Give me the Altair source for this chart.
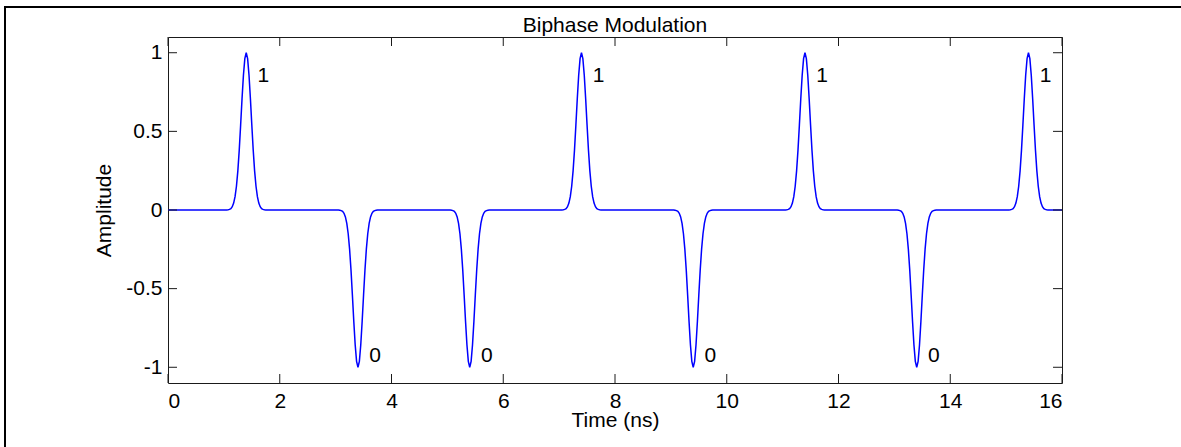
import altair as alt
import pandas as pd

# Bit stream: pulse centres (ns) and the bit carried by each pulse
pulse_centers = [1.4, 3.4, 5.4, 7.4, 9.4, 11.4, 13.4, 15.4]
bits = [1, 0, 0, 1, 0, 1, 0, 1]

# Shape of a single Gaussian monocycle pulse (offset in ns, normalised amplitude)
pulse_offsets = [-0.35, -0.325, -0.3, -0.275, -0.25, -0.225, -0.2, -0.175, -0.15,
                 -0.125, -0.1, -0.075, -0.05, -0.025, 0.0, 0.025, 0.05, 0.075,
                 0.1, 0.125, 0.15, 0.175, 0.2, 0.225, 0.25, 0.275, 0.3, 0.325, 0.35]
pulse_shape = [0.0, 0.0015, 0.004, 0.009, 0.021, 0.044, 0.085, 0.151, 0.249,
               0.381, 0.54, 0.707, 0.857, 0.962, 1.0, 0.962, 0.857, 0.707,
               0.54, 0.381, 0.249, 0.151, 0.085, 0.044, 0.021, 0.009, 0.004, 0.0015, 0.0]

time_range = [0, 16]
x_ticks = [0, 2, 4, 6, 8, 10, 12, 14, 16]
y_ticks = [-1, -0.5, 0, 0.5, 1]

# Bit labels drawn beside each pulse
label_dx = 0.2
label_y = {1: 0.85, 0: -0.93}

W, H = 894, 346
FONT = "Liberation Sans"
FS = 21
TICK = 9

# Assemble the modulated waveform: +pulse for "1", -pulse for "0"
rows = [{"t": time_range[0], "a": 0.0}]
for c, b in zip(pulse_centers, bits):
    sign = 1 if b == 1 else -1
    for off, v in zip(pulse_offsets, pulse_shape):
        rows.append({"t": round(c + off, 4), "a": sign * v})
rows.append({"t": time_range[1], "a": 0.0})
wave = pd.DataFrame(rows)

labels = pd.DataFrame({
    "t": [c + label_dx for c in pulse_centers],
    "a": [label_y[b] for b in bits],
    "txt": [str(b) for b in bits],
})

xscale = alt.Scale(domain=time_range, nice=False, zero=False)
yscale = alt.Scale(domain=[-1.1, 1.1], nice=False, zero=False)

xaxis = alt.Axis(
    values=x_ticks, title="Time (ns)", grid=False, domain=False, ticks=False,
    labelFont=FONT, labelFontSize=FS, labelColor="#000", labelPadding=7,
    labelBaseline="top",
    titleFont=FONT, titleFontSize=FS, titleFontWeight="normal", titleColor="#000",
    titleY=43, titleBaseline="alphabetic")
yaxis = alt.Axis(
    values=y_ticks, title="Amplitude", grid=False, domain=False, ticks=False,
    labelExpr="toString(datum.value)",
    labelFont=FONT, labelFontSize=FS, labelColor="#000", labelPadding=6,
    titleFont=FONT, titleFontSize=FS, titleFontWeight="normal", titleColor="#000",
    titleX=-64, titleY=H / 2, titleAngle=-90, titleAlign="center",
    titleBaseline="middle")

X = alt.X("t:Q", scale=xscale, axis=xaxis)
Y = alt.Y("a:Q", scale=yscale, axis=yaxis)

line = alt.Chart(wave).mark_line(color="#0000ff", strokeWidth=1.5, interpolate="linear").encode(
    x=X, y=Y)

text = alt.Chart(labels).mark_text(
    align="left", baseline="middle", font=FONT, fontSize=FS, color="#000"
).encode(x=X, y=Y, text="txt:N")

xt = pd.DataFrame({"t": x_ticks})
yt = pd.DataFrame({"a": y_ticks})
tick_color = "#1a1a1a"

ticks_bottom = alt.Chart(xt).mark_rule(color=tick_color, strokeWidth=1).encode(
    x=X, y=alt.value(H), y2=alt.value(H - TICK))
ticks_top = alt.Chart(xt).mark_rule(color=tick_color, strokeWidth=1).encode(
    x=X, y=alt.value(0), y2=alt.value(TICK))
ticks_left = alt.Chart(yt).mark_rule(color=tick_color, strokeWidth=1).encode(
    y=Y, x=alt.value(0), x2=alt.value(TICK))
ticks_right = alt.Chart(yt).mark_rule(color=tick_color, strokeWidth=1).encode(
    y=Y, x=alt.value(W), x2=alt.value(W - TICK))

one = pd.DataFrame({"title": ["Biphase Modulation"]})

# Plot title, centred just above the axes box
title = alt.Chart(one).mark_text(
    align="center", baseline="alphabetic", font=FONT, fontSize=FS, color="#000", clip=False
).encode(x=alt.value(W / 2), y=alt.value(-5), text="title:N")

# Figure frame lines along the top and left edge of the canvas
frame_top = alt.Chart(one).mark_rule(color="#000", strokeWidth=2, clip=False).encode(
    x=alt.value(-164), x2=alt.value(1013), y=alt.value(-30))
frame_left = alt.Chart(one).mark_rule(color="#000", strokeWidth=2, clip=False).encode(
    x=alt.value(-163), y=alt.value(-31), y2=alt.value(410))

chart = alt.layer(
    line, text, ticks_bottom, ticks_top, ticks_left, ticks_right, title, frame_top, frame_left
).properties(
    width=W, height=H,
    autosize=alt.AutoSizeParams(type="none"),
    padding={"left": 168, "top": 37, "right": 119, "bottom": 64},
    background="white",
).configure_view(stroke=tick_color, strokeWidth=1)

chart.save("out.html", embed_options={"renderer": "svg", "actions": False})
